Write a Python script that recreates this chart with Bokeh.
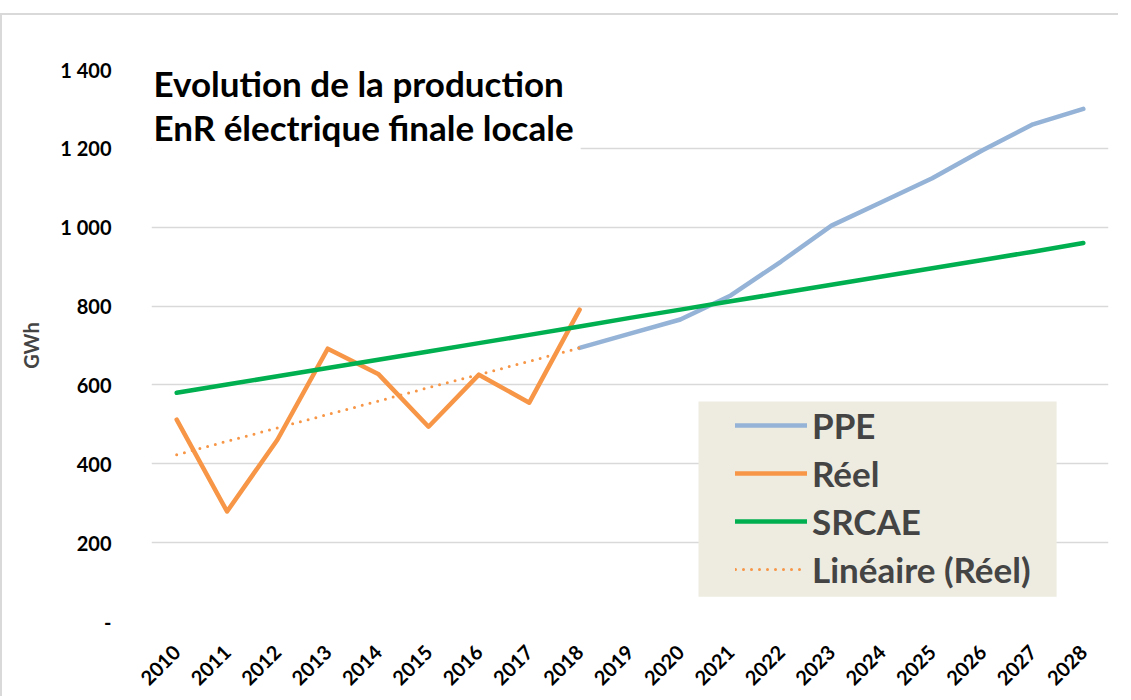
import math
from bokeh.plotting import figure
from bokeh.models import (FactorRange, Range1d, FixedTicker, Legend,
                          LegendItem, BoxAnnotation, Label)
from bokeh.embed import file_html
from bokeh.resources import INLINE

# ---- data ----
years = [str(y) for y in range(2010, 2029)]
reel_years = years[:9]
reel = [512, 279, 461, 692, 628, 494, 626, 555, 791]
trend_years = years[:9]
trend = [423, 457, 491, 525, 559, 593, 626, 660, 694]
ppe_years = years[8:]
ppe = [694, 730, 766, 827, 913, 1004, 1064, 1124, 1195, 1261, 1300]
srcae_years = years
srcae = [580, 601, 622, 643, 664, 685, 706, 727, 748, 770, 791, 812, 833, 854, 875, 896, 917, 938, 960]
y_ticks = [0, 200, 400, 600, 800, 1000, 1200, 1400]
y_tick_labels = ["-", "200", "400", "600", "800", "1 000", "1 200", "1 400"]
title_lines = ["Evolution de la production", "EnR électrique finale locale"]
y_label = "GWh"

FONT = "Lato"
C_PPE = "#95B3D7"
C_REEL = "#F79646"
C_SRCAE = "#00B050"

p = figure(width=1118, height=683, x_range=FactorRange(*years, range_padding=0),
           y_range=Range1d(0, 1400), output_backend="svg", toolbar_location=None,
           min_border_left=149, min_border_right=12, min_border_top=54, min_border_bottom=77)
p.styles = {"margin-left": "-6px", "margin-top": "5px", "margin-bottom": "-20px",
            "position": "relative", "top": "8px", "left": "6px",
            "border-left": "2px solid #d9d9d9", "border-top": "2px solid #d9d9d9"}
p.outline_line_color = None
p.background_fill_color = "white"
p.border_fill_color = "white"

p.xgrid.grid_line_color = None
p.ygrid.grid_line_color = "#D9D9D9"
p.ygrid.grid_line_width = 1.5
p.yaxis.ticker = FixedTicker(ticks=y_ticks)
p.yaxis.major_label_overrides = {t: l for t, l in zip(y_ticks, y_tick_labels)}
for ax in (p.xaxis[0], p.yaxis[0]):
    ax.axis_line_color = None
    ax.major_tick_line_color = None
    ax.minor_tick_line_color = None
    ax.major_tick_out = 0
    ax.major_tick_in = 0
    ax.major_label_text_font = FONT
    ax.major_label_text_font_style = "bold"
    ax.major_label_text_color = "black"
p.yaxis.major_label_text_font_size = "20px"
p.yaxis.major_label_standoff = 40
p.yaxis.axis_label = y_label
p.yaxis.axis_label_text_font = FONT
p.yaxis.axis_label_text_font_style = "bold"
p.yaxis.axis_label_text_font_size = "20px"
p.yaxis.axis_label_standoff = 14
p.xaxis.major_label_text_font_size = "20px"
p.xaxis.major_label_orientation = math.pi / 4
p.xaxis.major_label_standoff = 27

# white box behind title
p.add_layout(BoxAnnotation(left=0, right=8.52, bottom=1140, top=1500,
                           fill_color="white", fill_alpha=1, line_color=None))
# legend background
p.add_layout(BoxAnnotation(left=10.86, right=17.97, bottom=63, top=558,
                           fill_color="#EEECE1", fill_alpha=1, line_color=None))

r_ppe = p.line(ppe_years, ppe, line_color=C_PPE, line_width=4.5, line_cap="round", line_join="round")
r_reel = p.line(reel_years, reel, line_color=C_REEL, line_width=4.5, line_cap="round", line_join="round")
r_srcae = p.line(srcae_years, srcae, line_color=C_SRCAE, line_width=4.5, line_cap="round", line_join="round")
r_trend = p.line(trend_years, trend, line_color=C_REEL, line_width=3, line_dash="0 8", line_cap="round")

p.add_layout(Label(x=0.04, y=1366, text=title_lines[0], text_font=FONT, text_font_style="bold",
                   text_font_size="35px", text_baseline="middle", text_color="black"))
p.add_layout(Label(x=0.04, y=1253, text=title_lines[1], text_font=FONT, text_font_style="bold",
                   text_font_size="35px", text_baseline="middle", text_color="black"))

legend = Legend(items=[LegendItem(label="PPE", renderers=[r_ppe]),
                       LegendItem(label="Réel", renderers=[r_reel]),
                       LegendItem(label="SRCAE", renderers=[r_srcae]),
                       LegendItem(label="Linéaire (Réel)", renderers=[r_trend])],
                location=(584, 28), padding=0, margin=0, spacing=0,
                glyph_width=72, glyph_height=48, label_height=48, label_standoff=5,
                label_text_font=FONT, label_text_font_style="bold", label_text_font_size="35px",
                background_fill_alpha=0, border_line_color=None)
p.add_layout(legend, "center")

open("out.html", "w").write(file_html(p, INLINE))
